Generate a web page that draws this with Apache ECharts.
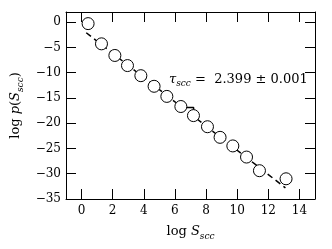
<!DOCTYPE html>
<html>
<head>
<meta charset="utf-8">
<script src="https://cdn.jsdelivr.net/npm/echarts@6/dist/echarts.min.js"></script>
<style>
  html, body { margin: 0; padding: 0; background: #fff; }
  #chart { width: 332px; height: 249px; }
</style>
</head>
<body>
<div id="chart"></div>
<script>
// data
const logS = [0.42, 1.28, 2.14, 2.95, 3.81, 4.66, 5.48, 6.38, 7.19, 8.09, 8.9, 9.72, 10.6, 11.43, 13.14]
const logP = [-0.3, -4.3, -6.6, -8.6, -10.6, -12.7, -14.7, -16.7, -18.5, -20.7, -22.8, -24.5, -26.7, -29.4, -31.0]

// dashed fit line, end points
const fitX = [0.3, 13.1]
const fitY = [-2.1, -32.8]

// the little step between the 8th and 9th point
const stepX = [6.72, 7.2, 7.2]
const stepY = [-16.9, -16.9, -17.9]

const xTicks = [0, 2, 4, 6, 8, 10, 12, 14]
const yTicks = [-35, -30, -25, -20, -15, -10, -5, 0]

const FONT = 'DejaVu Serif'
const minus = v => String(v).replace('-', '\u2212')
const zip = (a, b) => a.map((v, i) => [v, b[i]])

const chart = echarts.init(document.getElementById('chart'))

const xBase = {
  type: 'value', min: -1, max: 15,
  axisLine: { onZero: false, lineStyle: { color: '#000', width: 1 } },
  axisTick: { inside: true, length: 10, customValues: xTicks, lineStyle: { color: '#000' } },
  splitLine: { show: false }
}
const yBase = {
  type: 'value', min: -35, max: 2,
  axisLine: { onZero: false, lineStyle: { color: '#000', width: 1 } },
  axisTick: { inside: true, length: 10, customValues: yTicks, lineStyle: { color: '#000' } },
  splitLine: { show: false }
}

const nameRich = {
  r: { fontFamily: FONT, fontSize: 13, color: '#000', lineHeight: 18, verticalAlign: 'middle' },
  i: { fontFamily: FONT, fontSize: 13, fontStyle: 'italic', color: '#000', lineHeight: 18, verticalAlign: 'middle' },
  s: { fontFamily: FONT, fontSize: 9, fontStyle: 'italic', color: '#000', lineHeight: 18, verticalAlign: 'bottom' }
}

chart.setOption({
  animation: false,
  grid: { left: 66, right: 17, top: 12, bottom: 50 },
  xAxis: [
    {
      ...xBase, position: 'bottom',
      axisLabel: { customValues: xTicks, formatter: minus, color: '#000', fontFamily: FONT, fontSize: 12, margin: 6 },
      name: '{r|log }{i|S}{s|scc}', nameLocation: 'middle', nameGap: 24,
      nameTextStyle: { rich: nameRich }
    },
    { ...xBase, position: 'top', axisLabel: { show: false } }
  ],
  yAxis: [
    {
      ...yBase, position: 'left',
      axisLabel: { customValues: yTicks, formatter: minus, color: '#000', fontFamily: FONT, fontSize: 12, margin: 5 },
      name: '{r|log }{i|p}{r|(}{i|S}{s|scc}{r|)}', nameLocation: 'middle', nameGap: 37, nameRotate: 90,
      nameTextStyle: { rich: nameRich }
    },
    { ...yBase, position: 'right', axisLabel: { show: false } }
  ],
  series: [
    {
      type: 'line', z: 1, data: zip(fitX, fitY), showSymbol: false, symbol: 'none',
      lineStyle: { color: '#000', width: 1.5, type: [6, 4] }
    },
    {
      type: 'line', z: 1, data: zip(stepX, stepY), showSymbol: false, symbol: 'none',
      lineStyle: { color: '#000', width: 1.5 }
    },
    {
      type: 'scatter', z: 3, data: zip(logS, logP), symbol: 'circle', symbolSize: 12,
      itemStyle: { color: '#fff', borderColor: '#000', borderWidth: 1, opacity: 1 }
    }
  ],
  graphic: [{
    type: 'text', left: 169, top: 73,
    style: {
      text: '{t|\u03c4}{s|scc}{n| =  2.399 \u00b1 0.001}',
      rich: {
        t: { fontFamily: FONT, fontSize: 13, fontStyle: 'italic', fill: '#000', lineHeight: 18, verticalAlign: 'middle' },
        s: { fontFamily: FONT, fontSize: 9, fontStyle: 'italic', fill: '#000', lineHeight: 18, verticalAlign: 'bottom' },
        n: { fontFamily: FONT, fontSize: 13, fill: '#000', lineHeight: 18, verticalAlign: 'middle' }
      }
    }
  }]
})
</script>
</body>
</html>
